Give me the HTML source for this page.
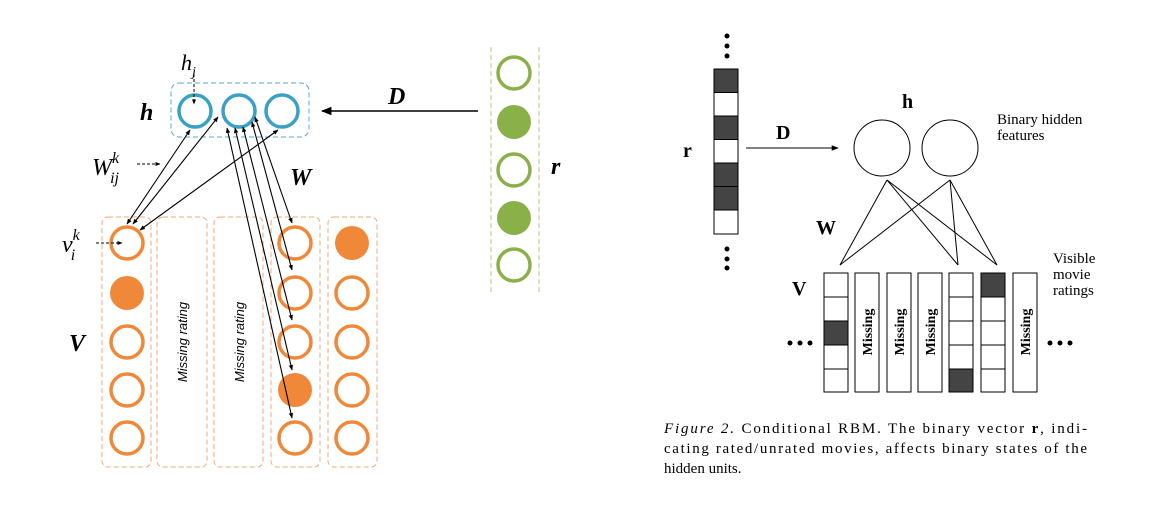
<!DOCTYPE html>
<html><head><meta charset="utf-8"><style>
html,body{margin:0;padding:0;background:#fff;}
svg{display:block;}
text{font-family:"Liberation Serif",serif;}
</style></head><body>
<svg width="1154" height="505" viewBox="0 0 1154 505">
<defs>
<marker id="ah" viewBox="0 0 10 10" refX="9" refY="5" markerWidth="7" markerHeight="7" orient="auto-start-reverse"><path d="M0,1 L10,5 L0,9 z" fill="#000"/></marker>
<marker id="ah2" viewBox="0 0 10 10" refX="9" refY="5" markerWidth="5" markerHeight="5" orient="auto-start-reverse"><path d="M0,1 L10,5 L0,9 z" fill="#000"/></marker>
</defs>
<g>
 <rect x="171" y="83" width="138" height="54" rx="8" fill="none" stroke="#5ba8c8" stroke-width="1" stroke-dasharray="5,3"/>
 <g fill="none" stroke="#3aa0c4" stroke-width="3.5">
  <circle cx="195" cy="111" r="16"/><circle cx="239" cy="111" r="16"/><circle cx="282" cy="111" r="16"/>
 </g>
 <text x="140" y="120" font-size="24" font-weight="bold" font-style="italic">h</text>
 <text x="181" y="70" font-size="22" font-style="italic">h<tspan font-size="14" dy="6">j</tspan></text>
 <line x1="194" y1="74" x2="194" y2="104" stroke="#000" stroke-dasharray="3,2" marker-end="url(#ah2)"/>
 <g fill="none" stroke="#f0a878" stroke-width="1" stroke-dasharray="5,3">
  <rect x="102" y="217" width="49" height="250" rx="6"/><rect x="157" y="217" width="50" height="250" rx="6"/><rect x="214" y="217" width="49" height="250" rx="6"/><rect x="271" y="217" width="49" height="250" rx="6"/><rect x="328" y="217" width="49" height="250" rx="6"/>
 </g>
 <g stroke="#f0883a" stroke-width="3.5" fill="none">
  <circle cx="127" cy="243" r="16"/><circle cx="127" cy="293" r="17" fill="#f0883a" stroke="none"/><circle cx="127" cy="342" r="16"/><circle cx="127" cy="390" r="16"/><circle cx="127" cy="438" r="16"/>
  <circle cx="295" cy="243" r="16"/><circle cx="295" cy="293" r="16"/><circle cx="295" cy="342" r="16"/><circle cx="295" cy="390" r="17" fill="#f0883a" stroke="none"/><circle cx="295" cy="438" r="16"/>
  <circle cx="352" cy="243" r="17" fill="#f0883a" stroke="none"/><circle cx="352" cy="293" r="16"/><circle cx="352" cy="342" r="16"/><circle cx="352" cy="390" r="16"/><circle cx="352" cy="438" r="16"/>
 </g>
 <text transform="translate(187,342) rotate(-90)" text-anchor="middle" font-size="13" font-style="italic" style="font-family:'Liberation Sans',sans-serif">Missing rating</text>
 <text transform="translate(244,342) rotate(-90)" text-anchor="middle" font-size="13" font-style="italic" style="font-family:'Liberation Sans',sans-serif">Missing rating</text>
 <g stroke="#000" stroke-width="1.1" marker-start="url(#ah2)" marker-end="url(#ah2)">
  <line x1="190" y1="130" x2="127" y2="224"/><line x1="218" y1="117" x2="133" y2="224"/><line x1="278" y1="130" x2="140" y2="230"/>
  <line x1="227" y1="128" x2="292" y2="418"/><line x1="235" y1="128" x2="292" y2="370"/><line x1="243" y1="127" x2="292" y2="320"/><line x1="252" y1="122" x2="292" y2="270"/><line x1="255" y1="117" x2="292" y2="223"/>
 </g>
 <text x="92" y="175" font-size="24" font-style="italic">W<tspan font-size="16" dy="-12">k</tspan><tspan font-size="16" dx="-9" dy="20">ij</tspan></text>
 <line x1="137" y1="164" x2="160" y2="164" stroke="#000" stroke-dasharray="3,2" marker-end="url(#ah2)"/>
 <text x="62" y="252" font-size="24" font-style="italic">v<tspan font-size="16" dy="-12">k</tspan><tspan font-size="16" dx="-9" dy="20">i</tspan></text>
 <line x1="96" y1="243" x2="122" y2="243" stroke="#000" stroke-dasharray="3,2" marker-end="url(#ah2)"/>
 <text x="290" y="185" font-size="24" font-weight="bold" font-style="italic">W</text>
 <text x="69" y="351" font-size="24" font-weight="bold" font-style="italic">V</text>
 <text x="388" y="104" font-size="24" font-weight="bold" font-style="italic">D</text>
 <line x1="478" y1="111" x2="322" y2="111" stroke="#000" stroke-width="1.5" marker-end="url(#ah)"/>
 <line x1="491" y1="47" x2="491" y2="293" stroke="#b5c98a" stroke-dasharray="5,3"/>
 <line x1="539" y1="47" x2="539" y2="293" stroke="#b5c98a" stroke-dasharray="5,3"/>
 <g stroke="#8ab04a" stroke-width="3.5" fill="none">
  <circle cx="514" cy="73" r="16"/><circle cx="514" cy="122" r="17" fill="#8ab04a" stroke="none"/><circle cx="514" cy="170" r="16"/><circle cx="514" cy="218" r="17" fill="#8ab04a" stroke="none"/><circle cx="514" cy="265" r="16"/>
 </g>
 <text x="551" y="174" font-size="24" font-weight="bold" font-style="italic">r</text>
</g>
<g>
 <g fill="#000"><circle cx="727" cy="36" r="2.5"/><circle cx="727" cy="46" r="2.5"/><circle cx="727" cy="56" r="2.5"/><circle cx="727" cy="249" r="2.5"/><circle cx="727" cy="259" r="2.5"/><circle cx="727" cy="268" r="2.5"/></g>
 <g stroke="#000" stroke-width="1">
  <rect x="714" y="69" width="24" height="23.5" fill="#444"/><rect x="714" y="92.5" width="24" height="23.5" fill="#fff"/><rect x="714" y="116" width="24" height="23.5" fill="#444"/><rect x="714" y="139.5" width="24" height="23.5" fill="#fff"/><rect x="714" y="163" width="24" height="23.5" fill="#444"/><rect x="714" y="186.5" width="24" height="23.5" fill="#444"/><rect x="714" y="210" width="24" height="24" fill="#fff"/>
 </g>
 <text x="683" y="157" font-size="20" font-weight="bold">r</text>
 <text x="776" y="139" font-size="20" font-weight="bold">D</text>
 <line x1="746" y1="148" x2="838" y2="148" stroke="#000" stroke-width="1" marker-end="url(#ah)"/>
 <text x="902" y="108" font-size="20" font-weight="bold">h</text>
 <circle cx="882" cy="148" r="28" fill="none" stroke="#000"/><circle cx="950" cy="148" r="28" fill="none" stroke="#000"/>
 <text x="997" y="124" font-size="15">Binary hidden</text>
 <text x="997" y="140" font-size="15">features</text>
 <g stroke="#000" stroke-width="1">
  <line x1="887" y1="180" x2="840" y2="265"/><line x1="887" y1="180" x2="958" y2="265"/><line x1="887" y1="180" x2="997" y2="265"/>
  <line x1="950" y1="180" x2="840" y2="265"/><line x1="950" y1="180" x2="958" y2="265"/><line x1="950" y1="180" x2="997" y2="265"/>
 </g>
 <text x="816" y="234" font-size="20" font-weight="bold">W</text>
 <text x="792" y="295" font-size="20" font-weight="bold">V</text>
 <g stroke="#000" stroke-width="1" fill="#fff">
  <rect x="824" y="273" width="24" height="24"/><rect x="824" y="297" width="24" height="24"/><rect x="824" y="321" width="24" height="24" fill="#444"/><rect x="824" y="345" width="24" height="24"/><rect x="824" y="369" width="24" height="23"/>
  <rect x="855" y="273" width="24" height="119"/><rect x="887" y="273" width="24" height="119"/><rect x="918" y="273" width="24" height="119"/>
  <rect x="949" y="273" width="24" height="24"/><rect x="949" y="297" width="24" height="24"/><rect x="949" y="321" width="24" height="24"/><rect x="949" y="345" width="24" height="24"/><rect x="949" y="369" width="24" height="23" fill="#444"/>
  <rect x="981" y="273" width="24" height="24" fill="#444"/><rect x="981" y="297" width="24" height="24"/><rect x="981" y="321" width="24" height="24"/><rect x="981" y="345" width="24" height="24"/><rect x="981" y="369" width="24" height="23"/>
  <rect x="1013" y="273" width="24" height="119"/>
 </g>
 <g font-size="14" font-weight="bold">
  <text transform="translate(872,332) rotate(-90)" text-anchor="middle">Missing</text>
  <text transform="translate(904,332) rotate(-90)" text-anchor="middle">Missing</text>
  <text transform="translate(935,332) rotate(-90)" text-anchor="middle">Missing</text>
  <text transform="translate(1030,332) rotate(-90)" text-anchor="middle">Missing</text>
 </g>
 <g fill="#000"><circle cx="790" cy="343" r="2.5"/><circle cx="800" cy="343" r="2.5"/><circle cx="810" cy="343" r="2.5"/><circle cx="1050" cy="343" r="2.5"/><circle cx="1060" cy="343" r="2.5"/><circle cx="1070" cy="343" r="2.5"/></g>
 <text x="1053" y="263" font-size="15">Visible</text>
 <text x="1053" y="279" font-size="15">movie</text>
 <text x="1053" y="295" font-size="15">ratings</text>
 <g font-size="15">
  <text x="664" y="433" textLength="423" lengthAdjust="spacing"><tspan font-style="italic">Figure 2.</tspan>  Conditional RBM. The binary vector <tspan font-weight="bold">r</tspan>, indi-</text>
  <text x="664" y="453" textLength="423" lengthAdjust="spacing">cating rated/unrated movies, affects binary states of the</text>
  <text x="664" y="473">hidden units.</text>
 </g>
</g>
</svg>
</body></html>
